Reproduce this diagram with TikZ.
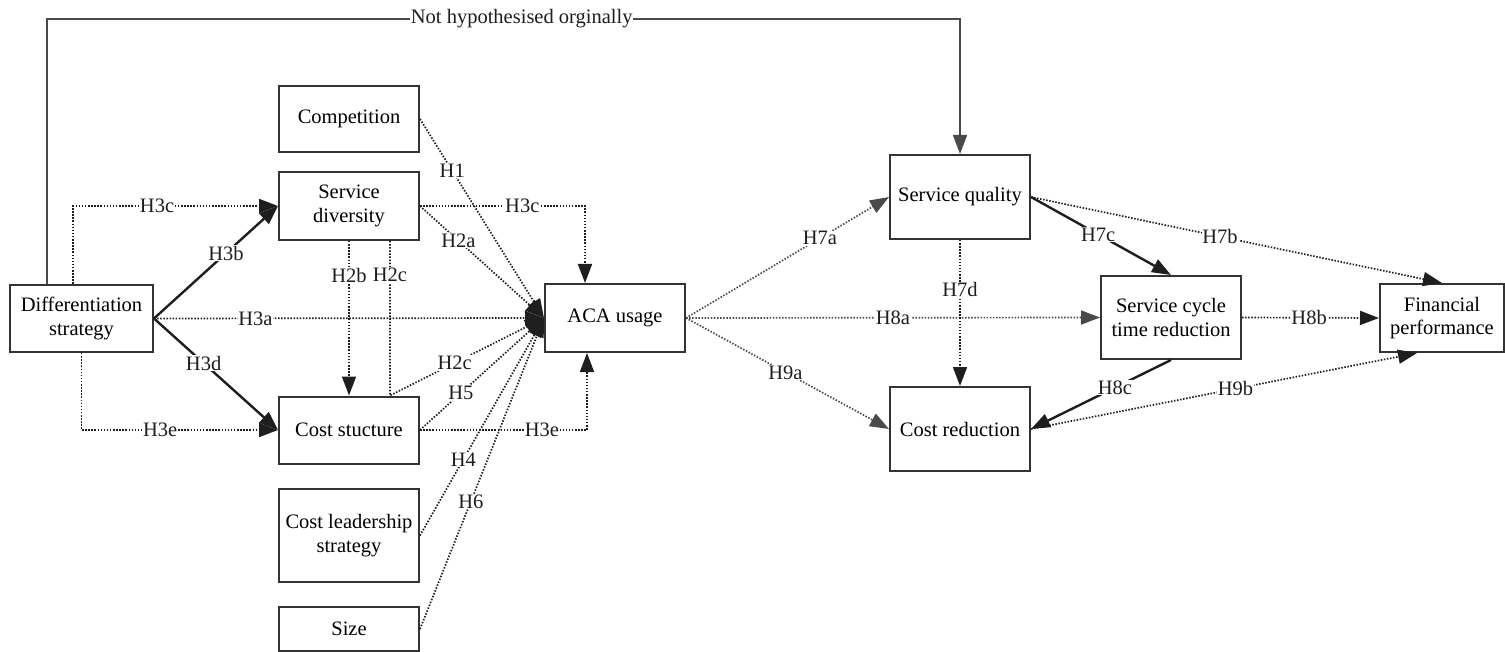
\documentclass[tikz,border=0pt]{standalone}
\usepackage{fontspec}
\setmainfont{Liberation Serif}
\usetikzlibrary{arrows.meta,calc}
\definecolor{ink}{HTML}{1E1E1E}
\definecolor{boxline}{HTML}{333333}
\definecolor{wire}{HTML}{4A4A4A}
\newcommand\boxfont{\fontsize{20.5}{23.5}\selectfont}
\newcommand\tagfont{\fontsize{20.5}{22}\selectfont}
\begin{document}
\begin{tikzpicture}[x=1pt,y=-1pt,
  box/.style={draw=boxline,line width=2pt,fill=white,inner sep=0pt,align=center,font=\boxfont,minimum width=140pt},
  tip/.style={-{Triangle[length=19pt,width=14pt]}},
  hyp/.style={tip,draw=ink,line width=1.7pt,dash pattern=on 1.5pt off 1.6pt},
  hypgray/.style={hyp,draw=wire},
  firm/.style={tip,draw=ink,line width=2.4pt},
  topline/.style={tip,draw=wire,line width=1.6pt},
  tag/.style={fill=white,inner sep=0.8pt,font=\tagfont,text=ink}]
\useasboundingbox (0,0) rectangle (1505,652);

% ---- boxes ----
\node[box,minimum width=143pt,minimum height=67pt] (diff) at (81.5,318.5) {Differentiation\\strategy};
\node[box,minimum height=66pt] (comp) at (349,119) {Competition};
\node[box,minimum height=68pt] (sdiv) at (349,206) {Service\\diversity};
\node[box,minimum height=67pt] (cost) at (349,430) {Cost stucture};
\node[box,minimum height=93pt] (clead) at (349,535.5) {Cost leadership\\strategy};
\node[box,minimum height=44pt] (size) at (349,629) {Size};
\node[box,minimum height=68pt] (aca) at (615,318) {ACA usage};
\node[box,minimum height=84pt] (squal) at (960,197) {Service quality};
\node[box,minimum height=83pt] (scyc) at (1171,317.5) {Service cycle\\time reduction};
\node[box,minimum width=124pt,minimum height=68pt] (fin) at (1442,318) {Financial\\performance};
\node[box,minimum height=84pt] (cred) at (960,429) {Cost reduction};

% ---- link added after the original hypotheses ----
\coordinate (t1) at (47,19);
\coordinate (t2) at (t1 -| squal.north);
\draw[topline] ([xshift=-34.5pt]diff.north) -- (t1)
  -- node[tag,pos=0.52]{Not hypothesised orginally} (t2) -- (squal.north);

% ---- differentiation strategy ----
\draw[hyp] ([xshift=-8.5pt]diff.north) |- node[tag,pos=0.705]{H3c} (sdiv.west);
\draw[hyp] (diff.south) |- node[tag,pos=0.70]{H3e} (cost.west);
\draw[firm] (diff.east) -- node[tag,pos=0.58]{H3b} (sdiv.west);
\draw[firm] (diff.east) -- node[tag,pos=0.40]{H3d} (cost.west);
\draw[hyp] (diff.east) -- node[tag,pos=0.26]{H3a} (aca.west);

% ---- antecedents of ACA usage ----
\draw[hyp] (comp.east) -- node[tag,pos=0.26]{H1} (aca.west);
\draw[hyp] (sdiv.east) -- node[tag,pos=0.31]{H2a} (aca.west);
\draw[hyp] (sdiv.east) -| node[tag,pos=0.31]{H3c} ([xshift=-30pt]aca.north);
\draw[hyp] (sdiv.south) -- node[tag,pos=0.22]{H2b} (cost.north);
\draw[hyp] ([xshift=41pt]sdiv.south) -- node[tag,pos=0.22]{H2c} ([xshift=41pt]cost.north)
  -- node[tag,pos=0.42]{H2c} (aca.west);
\draw[hyp] (cost.east) -- node[tag,pos=0.33]{H5} (aca.west);
\draw[hyp] (cost.east) -| node[tag,pos=0.365]{H3e} ([xshift=-28pt]aca.south);
\draw[hyp] (clead.east) -- node[tag,pos=0.35]{H4} (aca.west);
\draw[hyp] (size.east) -- node[tag,pos=0.41]{H6} (aca.west);

% ---- consequences of ACA usage ----
\draw[hypgray] (aca.east) -- node[tag,pos=0.66]{H7a} (squal.west);
\draw[hypgray] (aca.east) -- node[tag,pos=0.50]{H8a} (scyc.west);
\draw[hypgray] (aca.east) -- node[tag,pos=0.49]{H9a} (cred.west);
\draw[hyp] (squal.south) -- node[tag,pos=0.34]{H7d} (cred.north);
\draw[firm] (squal.east) -- node[tag,pos=0.48]{H7c} (scyc.north);
\draw[hyp] (squal.east) -- node[tag,pos=0.46]{H7b} (fin.north);
\draw[hyp] (scyc.east) -- node[tag,pos=0.49]{H8b} (fin.west);
\draw[firm] (scyc.south) -- node[tag,pos=0.40]{H8c} (cred.east);
\draw[hyp] (cred.east) -- node[tag,pos=0.53]{H9b} ([xshift=-25pt]fin.south);
\end{tikzpicture}
\end{document}
